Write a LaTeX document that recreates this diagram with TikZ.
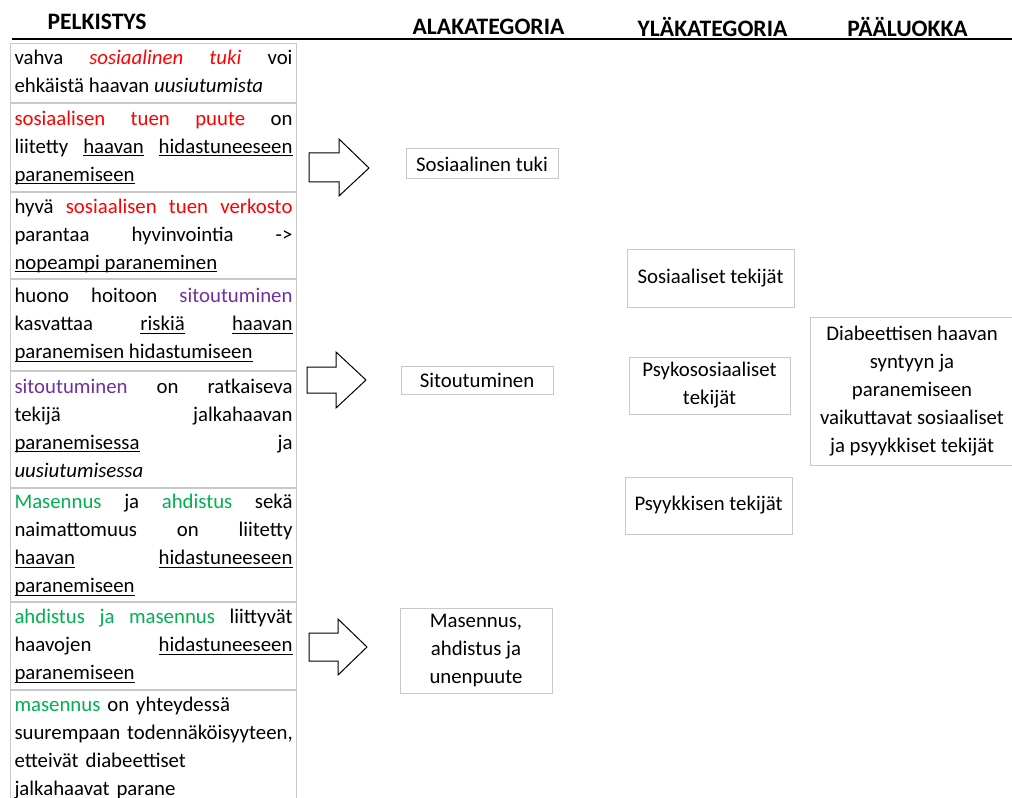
\documentclass[tikz,border=0pt]{standalone}
\usepackage{fontspec}
\setmainfont{Carlito}
\usetikzlibrary{positioning}
\definecolor{tukired}{RGB}{255,0,0}
\definecolor{sitpurple}{RGB}{112,48,160}
\definecolor{masgreen}{RGB}{0,176,80}
\definecolor{boxgray}{RGB}{200,200,200}
\newcommand{\alla}[1]{\leavevmode\setbox0\hbox{#1}\rlap{\rule[-2.4pt]{\wd0}{0.8pt}}\box0\relax}

\begin{document}
\begin{tikzpicture}[x=0.75pt,y=0.75pt,yscale=-1,xscale=1,
  otsikko/.style={inner sep=0pt,font=\fontsize{17.7pt}{20pt}\selectfont\bfseries},
  rivi/.style={draw=boxgray,line width=0.75pt,text width=208.5pt,inner xsep=3pt,inner ysep=0pt,
    align=justify,font=\fontsize{15.6pt}{21pt}\selectfont,
    execute at begin node={\hyphenpenalty=10000\relax\tolerance=10000\relax\hbadness=10000\relax\hfuzz=20pt\relax}},
  katbox/.style={draw=boxgray,line width=0.75pt,inner sep=0pt,align=center,
    font=\fontsize{15.6pt}{21pt}\selectfont}]
\useasboundingbox (0,0) rectangle (1012,798);
\clip (0,0) rectangle (1012,798);

% Header
\node [otsikko] (pelk) at (97,22) {PELKISTYS};
\node [otsikko] (ala) at (488.5,27) {ALAKATEGORIA};
\node [otsikko] (yla) at (712.5,27) {YLÄKATEGORIA};
\node [otsikko] (paaluokka) at (907.5,27) {PÄÄLUOKKA};
\draw [line width=1.2pt] (12,39) -- (1012,39);

% Pelkistykset
\node [rivi,minimum height=44.25pt,anchor=north west] (r1) at (10,43) {\strut vahva \textcolor{tukired}{\textit{sosiaalinen tuki}} voi\linebreak ehkäistä haavan \textit{uusiutumista}\strut};
\node [rivi,minimum height=66pt,below=0pt of r1] (r2) {\strut\textcolor{tukired}{sosiaalisen tuen puute} on\linebreak liitetty \alla{haavan} \alla{hidastuneeseen}\linebreak \alla{paranemiseen}\strut};
\node [rivi,minimum height=64.5pt,below=0pt of r2] (r3) {\strut hyvä \textcolor{tukired}{sosiaalisen tuen verkosto}\linebreak parantaa hyvinvointia ->\linebreak \alla{nopeampi paraneminen}\strut};
\node [rivi,minimum height=68.25pt,below=0pt of r3] (r4) {\strut huono hoitoon \textcolor{sitpurple}{sitoutuminen}\linebreak kasvattaa \alla{riskiä} \alla{haavan}\linebreak \alla{paranemisen hidastumiseen}\strut};
\node [rivi,minimum height=87pt,below=0pt of r4] (r5) {\strut\textcolor{sitpurple}{sitoutuminen} on ratkaiseva\linebreak tekijä jalkahaavan\linebreak \alla{paranemisessa} ja\linebreak \textit{uusiutumisessa}\strut};
\node [rivi,minimum height=84.75pt,below=0pt of r5] (r6) {\strut\textcolor{masgreen}{Masennus} ja \textcolor{masgreen}{ahdistus} sekä\linebreak naimattomuus on liitetty\linebreak \alla{haavan} \alla{hidastuneeseen}\linebreak \alla{paranemiseen}\strut};
\node [rivi,minimum height=65.25pt,below=0pt of r6] (r7) {\strut\textcolor{masgreen}{ahdistus ja masennus} liittyvät\linebreak haavojen \alla{hidastuneeseen}\linebreak \alla{paranemiseen}\strut};
\node [rivi,align=left,minimum height=86.25pt,below=0pt of r7] (r8) {\strut\textcolor{masgreen}{masennus} on yhteydessä\\ \makebox[\linewidth][l]{suurempaan todennäköisyyteen,}\\ etteivät diabeettiset\\ jalkahaavat parane\strut};

%Shape: Right Arrow
\draw [line width=0.75pt,fill=white] (309,153) -- (339,153) -- (339,139) -- (369,168) -- (339,196) -- (339,182) -- (309,182) -- cycle ;
%Shape: Right Arrow
\draw [line width=0.75pt,fill=white] (307,367) -- (336,367) -- (336,352) -- (366,380) -- (336,408) -- (336,393) -- (307,393) -- cycle ;
%Shape: Right Arrow
\draw [line width=0.75pt,fill=white] (309,633) -- (338,633) -- (338,619) -- (367,647) -- (338,675) -- (338,661) -- (309,661) -- cycle ;

% Alakategoriat
\node [katbox,minimum width=114pt,minimum height=22.5pt] (tuki) at (482,164) {Sosiaalinen tuki};
\node [katbox,minimum width=114pt,minimum height=21pt] (sitou) at (477,380) {Sitoutuminen};
\node [katbox,minimum width=114pt,minimum height=63.75pt] (masen) at (476,650.5) {Masennus,\\ ahdistus ja\\ unenpuute};

% Yläkategoriat
\node [katbox,minimum width=125.25pt,minimum height=42.75pt] (sosiaal) at (710.5,278.5) {Sosiaaliset tekijät};
\node [katbox,minimum width=120.75pt,minimum height=42.75pt] (psykosos) at (709.5,385.5) {Psykososiaaliset\\ tekijät};
\node [katbox,minimum width=125.25pt,minimum height=42.75pt] (psyyk) at (708.5,505.5) {Psyykkisen tekijät};

% Pääluokka
\node [katbox,minimum width=153pt,minimum height=111pt] (paa) at (912,391) {Diabeettisen haavan\\ syntyyn ja\\ paranemiseen\\ vaikuttavat sosiaaliset\\ ja psyykkiset tekijät};

\end{tikzpicture}
\end{document}
